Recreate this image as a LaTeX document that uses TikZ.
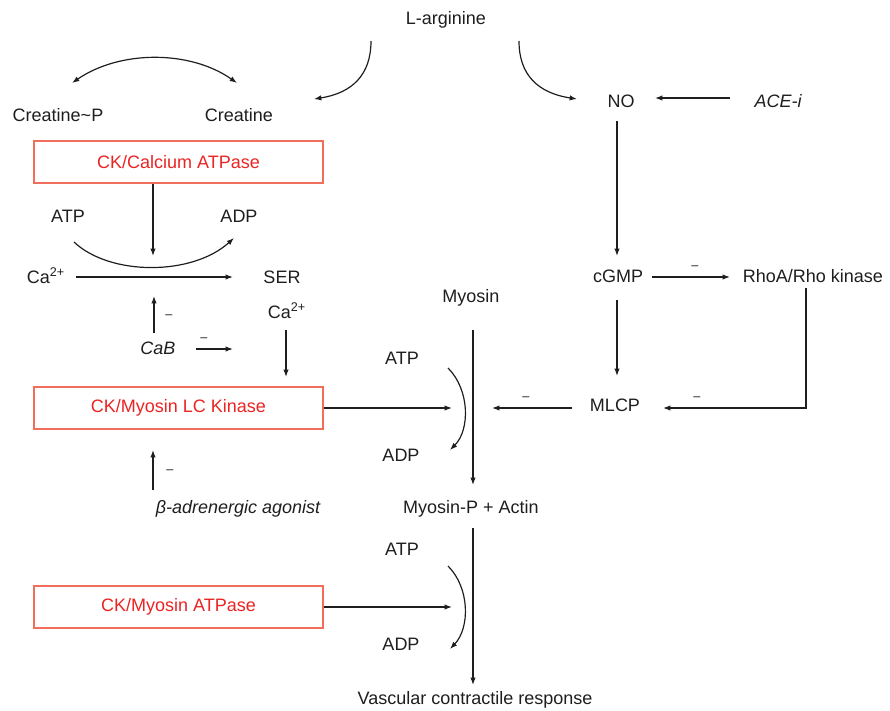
\documentclass[tikz,border=0pt]{standalone}
\usepackage{fontspec}
\setmainfont{Liberation Sans}
\usetikzlibrary{arrows.meta}
\definecolor{boxline}{RGB}{240,110,90}
\definecolor{boxtext}{RGB}{235,35,35}
\definecolor{ink}{RGB}{30,30,30}
\begin{document}
\begin{tikzpicture}[x=0.75pt,y=-0.75pt,
  txt/.style={inner sep=1pt,text=ink,font=\fontsize{13.5}{16}\selectfont},
  itxt/.style={txt,font=\fontsize{13.5}{16}\selectfont\itshape},
  box/.style={draw=boxline,line width=0.9pt,minimum width=216.75pt,minimum height=31.5pt,text=boxtext,font=\fontsize{13.5}{16}\selectfont,inner sep=0pt},
  minus/.style={inner sep=0pt,text=ink,font=\fontsize{9.5}{10}\selectfont},
  arr/.style={draw=ink,line width=0.9pt,-{Latex[length=5.5pt,width=4pt]}},
  arrb/.style={draw=ink,line width=0.9pt,{Latex[length=5.5pt,width=4pt]}-{Latex[length=5.5pt,width=4pt]}}
]
\useasboundingbox (0,0) rectangle (890,711);

% text nodes
\node[txt] (larg) at (446,20) {L-arginine};
\node[txt] (crp) at (58,115) {Creatine\textasciitilde P};
\node[txt] (cr) at (239,115) {Creatine};
\node[txt] (no) at (621,101) {NO};
\node[itxt] (ace) at (778,101) {ACE-i};
\node[box] (cka) at (178.5,162) {CK/Calcium ATPase};
\node[txt] (atp1) at (68,216) {ATP};
\node[txt] (adp1) at (239,216) {ADP};
\node[txt] (ca1) at (46,276) {Ca\textsuperscript{2+}};
\node[txt] (ser) at (282,277) {SER};
\node[txt] (ca2) at (287,311) {Ca\textsuperscript{2+}};
\node[itxt] (cab) at (158,348) {CaB};
\node[txt] (cgmp) at (618,276) {cGMP};
\node[txt] (rho) at (813,276) {RhoA/Rho kinase};
\node[txt] (myo) at (471,298) {Myosin};
\node[txt] (atp2) at (402,358) {ATP};
\node[txt] (adp2) at (401,455) {ADP};
\node[txt] (mlcp) at (615,405) {MLCP};
\node[box] (lck) at (178.5,408) {CK/Myosin LC Kinase};
\node[itxt] (beta) at (238,509) {β-adrenergic agonist};
\node[txt] (myop) at (471,509) {Myosin-P + Actin};
\node[txt] (atp3) at (402,549) {ATP};
\node[txt] (adp3) at (401,644) {ADP};
\node[box] (mat) at (178.5,607) {CK/Myosin ATPase};
\node[txt] (vcr) at (475,700) {Vascular contractile response};

% connector end points
\coordinate (crL) at (72,83);
\coordinate (crR) at (237,83);
\coordinate (lgL) at (371,41);
\coordinate (lgLe) at (314,99);
\coordinate (lgR) at (519,41);
\coordinate (lgRe) at (577,99);
\coordinate (aceS) at (730,98);
\coordinate (noE) at (655,98);
\coordinate (noB) at (617,121);
\coordinate (cgT) at (617,256);
\coordinate (cgB) at (617,300);
\coordinate (mlT) at (617,376);
\coordinate (cgR) at (652,277);
\coordinate (rhL) at (730,277);
\coordinate (rhB) at (806,288);
\coordinate (rhC) at (806,408);
\coordinate (mlR) at (663,408);
\coordinate (mlL) at (572,408);
\coordinate (myB) at (492,408);
\coordinate (myT) at (473,330);
\coordinate (myE) at (473,485);
\coordinate (mpT) at (473,528);
\coordinate (mpE) at (473,685);
\coordinate (lckE) at (452,408);
\coordinate (matE) at (452,607);
\coordinate (ckB) at (153,256);
\coordinate (atpS) at (74,242);
\coordinate (adpE) at (234,238);
\coordinate (caS) at (76,277);
\coordinate (serE) at (233,277);
\coordinate (cabT) at (154,296);
\coordinate (cabB) at (154,333);
\coordinate (cabR) at (196,349);
\coordinate (cabE) at (233,349);
\coordinate (ca2B) at (286,330);
\coordinate (ca2E) at (286,377);
\coordinate (btT) at (153,450);
\coordinate (btB) at (153,490);
\coordinate (a2s) at (448,368);
\coordinate (a2e) at (450,450);
\coordinate (a3s) at (448,566);
\coordinate (a3e) at (450,649);

% connectors
\draw[arrb] (crL) .. controls (120,50) and (190,50) .. (crR);
\draw[arr] (lgL) .. controls (371,75) and (352,93) .. (lgLe);
\draw[arr] (lgR) .. controls (519,75) and (538,93) .. (lgRe);
\draw[arr] (aceS) -- (noE);
\draw[arr] (noB) -- (cgT);
\draw[arr] (cgB) -- (mlT);
\draw[arr] (cgR) -- (rhL);
\draw[arr] (rhB) -- (rhC) -- (mlR);
\draw[arr] (mlL) -- (myB);
\draw[arr] (myT) -- (myE);
\draw[arr] (mpT) -- (mpE);
\draw[arr] (cka.south -| ckB) -- (ckB);
\draw[arr] (atpS) .. controls (110,276) and (192,276) .. (adpE);
\draw[arr] (caS) -- (serE);
\draw[arr] (cabB) -- (cabT);
\draw[arr] (cabR) -- (cabE);
\draw[arr] (ca2B) -- (ca2E);
\draw[arr] (btB) -- (btT);
\draw[arr] (lck.east) -- (lck.east -| lckE);
\draw[arr] (mat.east) -- (mat.east -| matE);
\draw[arr] (a2s) .. controls (470,390) and (470,430) .. (a2e);
\draw[arr] (a3s) .. controls (470,588) and (470,628) .. (a3e);

% inhibition marks
\node[minus] (m1) at (169,317) {–};
\node[minus] (m2) at (204,340) {–};
\node[minus] (m3) at (170,472) {–};
\node[minus] (m4) at (695,268) {–};
\node[minus] (m5) at (697,399) {–};
\node[minus] (m6) at (526,399) {–};
\end{tikzpicture}
\end{document}
